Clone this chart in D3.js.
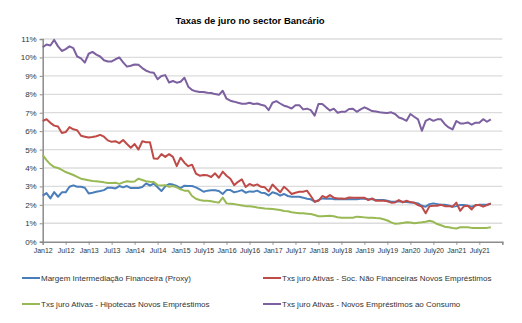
<!DOCTYPE html>
<html>
<head>
<meta charset="utf-8">
<script src="https://cdn.jsdelivr.net/npm/d3@7"></script>
<style>
  body { margin: 0; background: #fff; }
  text { font-family: "Liberation Sans", Arial, sans-serif; fill: #333; }
</style>
</head>
<body>
<div id="chart"></div>
<script>
// x tick labels, one every 6 months starting Jan 2012
const tickLabels = ["Jan12","Jul12","Jan13","Jul13","Jan14","Jul14","Jan15","July15","Jan16","July16",
                    "Jan17","July17","Jan18","July18","Jan19","July19","Jan20","July20","Jan21","July21"];

// monthly values (%) Jan12 .. Oct21
const margem = [
  2.5, 2.64, 2.35, 2.69, 2.44, 2.68, 2.68, 2.98, 3.06, 2.98, 2.98, 2.93,
  2.62, 2.66, 2.71, 2.75, 2.8, 2.93, 2.93, 2.89, 3.02, 2.95, 3.02, 2.91,
  2.91, 2.91, 2.97, 3.16, 3.05, 3.15, 2.95, 2.75, 3.0, 3.13, 3.1, 3.02,
  2.91, 3.04, 3.02, 3.02, 2.95, 2.84, 2.71, 2.77, 2.79, 2.79, 2.75, 2.59,
  2.8, 2.8, 2.68, 2.73, 2.8, 2.66, 2.73, 2.71, 2.77, 2.66, 2.64, 2.51,
  2.68, 2.62, 2.5, 2.59, 2.48, 2.44, 2.44, 2.44, 2.39, 2.33, 2.3, 2.17,
  2.26, 2.35, 2.33, 2.35, 2.31, 2.3, 2.3, 2.3, 2.31, 2.31, 2.31, 2.33,
  2.33, 2.3, 2.3, 2.26, 2.26, 2.26, 2.22, 2.17, 2.17, 2.19, 2.17, 2.15,
  2.13, 2.12, 2.08, 1.95, 1.9, 2.04, 2.08, 2.04, 2.0, 2.0, 1.97, 1.9,
  1.93, 1.99, 1.99, 1.95, 1.9, 1.97, 2.0, 2.0, 2.0, 2.06
];
const socNaoFin = [
  6.55, 6.65, 6.45, 6.3, 6.25, 5.9, 5.95, 6.22, 6.1, 6.05, 5.75, 5.7,
  5.65, 5.68, 5.72, 5.8, 5.7, 5.5, 5.42, 5.45, 5.35, 5.52, 5.3, 5.1,
  5.3, 5.0, 5.45, 5.4, 5.4, 4.52, 4.5, 4.75, 4.6, 4.75, 4.6, 4.1,
  4.56, 4.29, 4.1, 4.18, 3.7, 3.58, 3.62, 3.6, 3.51, 3.71, 3.47, 3.8,
  3.58, 3.42, 3.07, 3.25, 3.38, 2.97, 3.13, 3.04, 3.11, 2.98, 2.95, 2.73,
  3.1, 2.89, 2.68, 2.98, 2.8, 2.59, 2.66, 2.71, 2.71, 2.77, 2.48, 2.17,
  2.22, 2.48, 2.39, 2.53, 2.39, 2.35, 2.35, 2.33, 2.4, 2.39, 2.39, 2.39,
  2.39, 2.26, 2.35, 2.22, 2.22, 2.22, 2.19, 2.12, 2.13, 2.26, 2.13, 2.22,
  2.15, 2.12, 1.99, 1.9, 1.54, 1.93, 1.95, 1.95, 2.0, 1.93, 1.93, 1.9,
  2.12, 1.68, 1.93, 1.95, 1.75, 1.99, 1.99, 1.9, 1.99, 2.08
];
const hipotecas = [
  4.7, 4.43, 4.2, 4.05, 4.0, 3.9, 3.78, 3.7, 3.62, 3.52, 3.42, 3.38,
  3.33, 3.3, 3.28, 3.25, 3.22, 3.18, 3.18, 3.2, 3.14, 3.22, 3.28, 3.25,
  3.27, 3.42, 3.35, 3.28, 3.25, 3.24, 3.07, 3.05, 3.07, 2.98, 3.02, 2.95,
  2.84, 2.77, 2.77, 2.48, 2.33, 2.26, 2.22, 2.22, 2.19, 2.15, 2.12, 2.4,
  2.08, 2.06, 2.04, 2.0, 1.97, 1.93, 1.92, 1.9, 1.86, 1.83, 1.8, 1.79,
  1.77, 1.75, 1.72, 1.67, 1.65, 1.6, 1.57, 1.55, 1.54, 1.52, 1.5, 1.45,
  1.38, 1.38, 1.4, 1.41, 1.38, 1.33, 1.3, 1.3, 1.3, 1.3, 1.36, 1.34,
  1.32, 1.3, 1.3, 1.28, 1.27, 1.22, 1.15, 1.05, 0.97, 0.99, 1.02, 1.05,
  1.04, 1.0, 1.03, 1.05, 1.08, 1.14, 1.08, 0.96, 0.89, 0.81, 0.78, 0.74,
  0.72, 0.78, 0.78, 0.78, 0.75, 0.75, 0.74, 0.74, 0.75, 0.78
];
const consumo = [
  10.55, 10.7, 10.65, 10.95, 10.6, 10.35, 10.45, 10.6, 10.5, 10.05, 9.95, 9.72,
  10.2, 10.3, 10.15, 10.05, 9.85, 9.78, 9.78, 9.9, 10.0, 9.73, 9.5, 9.55,
  9.62, 9.6, 9.42, 9.28, 9.2, 9.17, 8.82, 8.99, 9.04, 8.64, 8.72, 8.63,
  8.68, 8.9, 8.41, 8.23, 8.16, 8.12, 8.12, 8.08, 8.07, 8.01, 7.97, 8.19,
  7.76, 7.65, 7.6, 7.54, 7.49, 7.49, 7.54, 7.47, 7.5, 7.43, 7.38, 7.14,
  7.54, 7.63, 7.5, 7.38, 7.32, 7.23, 7.4, 7.41, 7.18, 7.22, 7.14, 6.84,
  7.47, 7.47, 7.29, 7.12, 7.22, 7.0, 7.05, 7.05, 7.2, 7.22, 7.05, 7.18,
  7.29, 7.2, 7.09, 7.07, 7.02, 7.0, 6.98, 7.02, 6.93, 6.74, 6.67, 6.56,
  6.93, 6.78, 6.64, 6.02, 6.56, 6.67, 6.56, 6.64, 6.64, 6.38, 6.2, 6.09,
  6.55, 6.42, 6.42, 6.47, 6.35, 6.46, 6.46, 6.65, 6.51, 6.64
];

const seriesNames = [
  "Margem Intermediação Financeira (Proxy)",
  "Txs juro Ativas - Soc. Não Financeiras Novos Empréstimos",
  "Txs juro Ativas - Hipotecas Novos Empréstimos",
  "Txs juro Ativas - Novos Empréstimos ao Consumo"
];
const seriesColors = ["#4a7ebb", "#be4b48", "#98b954", "#7d60a0"];
const seriesValues = [margem, socNaoFin, hipotecas, consumo];

const W = 522, H = 323;
const svg = d3.select("#chart").append("svg")
    .attr("width", W)
    .attr("height", H);

// x: month index, axis runs Jan12 .. Jan22
const x = d3.scaleLinear().domain([0, 120]).range([42.7, 502.3]);
const y = d3.scaleLinear().domain([0, 11]).range([241.7, 39]);

// titulo
svg.append("text")
    .attr("x", 250).attr("y", 24)
    .attr("text-anchor", "middle")
    .style("font-size", "9.5px")
    .style("font-weight", "bold")
    .style("fill", "#000")
    .text("Taxas de juro no sector Bancário");

// grelha
svg.append("g")
    .selectAll("line")
    .data(d3.range(1, 12))
    .enter().append("line")
    .attr("x1", x(0)).attr("x2", x(120))
    .attr("y1", d => y(d)).attr("y2", d => y(d))
    .attr("stroke", "#dcdcdc")
    .attr("stroke-width", 1.3);

// eixo y
const yAxis = svg.append("g")
    .attr("transform", "translate(" + x(0) + ",0)")
    .call(d3.axisLeft(y).tickValues(d3.range(0, 12)).tickFormat(d => d + "%").tickSize(3).tickPadding(3));
yAxis.select(".domain").attr("stroke", "#8c8c8c").attr("stroke-width", 1.5);
yAxis.selectAll(".tick line").attr("stroke", "#8c8c8c");
yAxis.selectAll("text").style("font-size", "8px").style("fill", "#333");

// eixo x
const xAxis = svg.append("g")
    .attr("transform", "translate(0," + y(0) + ")")
    .call(d3.axisBottom(x).tickValues(d3.range(0, 121, 6))
        .tickFormat((d, i) => tickLabels[i] || "").tickSize(3).tickPadding(3));
xAxis.select(".domain").attr("stroke", "#8c8c8c").attr("stroke-width", 1.5);
xAxis.selectAll(".tick line").attr("stroke", "#8c8c8c");
xAxis.selectAll("text").style("font-size", "7px").style("fill", "#333");

// linhas
const line = d3.line()
    .x((d, i) => x(i))
    .y(d => y(d));

svg.append("g")
    .selectAll("path")
    .data(seriesValues)
    .enter().append("path")
    .attr("d", line)
    .attr("fill", "none")
    .attr("stroke", (d, i) => seriesColors[i])
    .attr("stroke-width", 2)
    .attr("stroke-linejoin", "round");

// legenda
const legendPos = [[22, 278], [263, 278], [22, 304], [263, 304]];
const legend = svg.append("g")
    .selectAll("g")
    .data(seriesNames)
    .enter().append("g")
    .attr("transform", (d, i) => "translate(" + legendPos[i][0] + "," + legendPos[i][1] + ")");

legend.append("line")
    .attr("x1", 0).attr("x2", 18)
    .attr("stroke", (d, i) => seriesColors[i])
    .attr("stroke-width", 2);

legend.append("text")
    .attr("x", 19).attr("y", 3)
    .style("font-size", "8px")
    .text(d => d);
</script>
</body>
</html>
